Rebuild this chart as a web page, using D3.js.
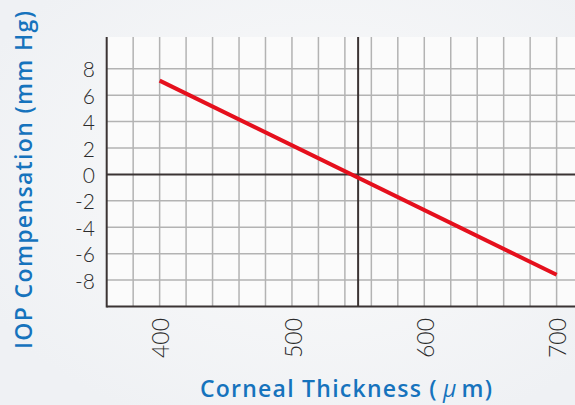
<!DOCTYPE html>
<html>
<head>
<meta charset="utf-8">
<script src="https://cdn.jsdelivr.net/npm/d3@7"></script>
<style>
  body { margin: 0; background: #f3f4f6; }
  svg { display: block; }
</style>
</head>
<body>
<div id="chart"></div>
<script>
// data
const thickness = [400, 700];
const compensation = [7.1, -7.6];
const xTicks = [400, 500, 600, 700];
const yTicks = [8, 6, 4, 2, 0, -2, -4, -6, -8];
const xGrid = d3.range(380, 721, 20);
const yGrid = [-8, -6, -4, -2, 2, 4, 6, 8];

const width = 575, height = 405;

const svg = d3.select("#chart")
    .append("svg")
    .attr("width", width)
    .attr("height", height);

const defs = svg.append("defs");
const bg = defs.append("radialGradient").attr("id", "bg")
    .attr("cx", "55%").attr("cy", "45%").attr("r", "65%");
bg.append("stop").attr("offset", "0%").attr("stop-color", "#fbfbfb");
bg.append("stop").attr("offset", "100%").attr("stop-color", "#eff1f4");

svg.append("rect")
    .attr("width", width)
    .attr("height", height)
    .attr("fill", "url(#bg)");

// scales
const x = d3.scaleLinear().domain([360, 713.9]).range([106.7, 575]);
const y = d3.scaleLinear().domain([-10, 10.4]).range([306.5, 37]);

// plot background
svg.append("rect")
    .attr("x", x(360))
    .attr("y", y(10.4))
    .attr("width", x(713.9) - x(360))
    .attr("height", y(-10) - y(10.4))
    .attr("fill", "#fbfbfb");

// grid
svg.append("g").selectAll("line")
    .data(xGrid)
    .join("line")
    .attr("x1", d => x(d)).attr("x2", d => x(d))
    .attr("y1", y(10.4)).attr("y2", y(-10))
    .attr("stroke", "#b3b3b3")
    .attr("stroke-width", 1.5);

svg.append("g").selectAll("line")
    .data(yGrid)
    .join("line")
    .attr("x1", x(360)).attr("x2", width)
    .attr("y1", d => y(d)).attr("y2", d => y(d))
    .attr("stroke", "#b3b3b3")
    .attr("stroke-width", 1.5);

// dark reference lines
const dark = "#3b3434";
svg.append("line")
    .attr("x1", x(550)).attr("x2", x(550))
    .attr("y1", y(10.4)).attr("y2", y(-10))
    .attr("stroke", dark).attr("stroke-width", 2);
svg.append("line")
    .attr("x1", x(360)).attr("x2", width)
    .attr("y1", y(0)).attr("y2", y(0))
    .attr("stroke", dark).attr("stroke-width", 2);
svg.append("line")
    .attr("x1", x(360)).attr("x2", width)
    .attr("y1", y(-10)).attr("y2", y(-10))
    .attr("stroke", dark).attr("stroke-width", 2);
svg.append("line")
    .attr("x1", x(360)).attr("x2", x(360))
    .attr("y1", y(10.4)).attr("y2", y(-10) + 1)
    .attr("stroke", dark).attr("stroke-width", 2);

// y tick labels
svg.append("g").selectAll("text")
    .data(yTicks)
    .join("text")
    .attr("x", 95)
    .attr("y", d => y(d) + 1)
    .attr("dy", "0.36em")
    .attr("text-anchor", "end")
    .attr("font-family", "Lato, 'Open Sans', sans-serif")
    .attr("font-weight", 300)
    .attr("font-size", 21)
    .attr("fill", "#2b2b2b")
    .text(d => d);

// x tick labels (rotated)
svg.append("g").selectAll("text")
    .data(xTicks)
    .join("text")
    .attr("transform", d => `translate(${x(d) + 1.5},318) rotate(-90)`)
    .attr("dy", "0.36em")
    .attr("text-anchor", "end")
    .attr("font-family", "Lato, 'Open Sans', sans-serif")
    .attr("font-weight", 300)
    .attr("font-size", 23)
    .attr("fill", "#2b2b2b")
    .text(d => d);

// the line
const line = d3.line()
    .x((d, i) => x(thickness[i]))
    .y(d => y(d));

svg.append("path")
    .datum(compensation)
    .attr("d", line)
    .attr("fill", "none")
    .attr("stroke", "#e5101d")
    .attr("stroke-width", 4);

// axis titles
const blue = "#1673bd";
svg.append("text")
    .attr("transform", "translate(32,180) rotate(-90)")
    .attr("text-anchor", "middle")
    .attr("font-family", "'Open Sans', sans-serif")
    .attr("font-weight", 600)
    .attr("font-size", 23)
    .attr("textLength", 338)
    .attr("lengthAdjust", "spacing")
    .attr("fill", blue)
    .text("IOP Compensation (mm Hg)");

const xt = svg.append("text")
    .attr("x", 346)
    .attr("y", 397)
    .attr("text-anchor", "middle")
    .attr("font-family", "'Open Sans', sans-serif")
    .attr("font-weight", 600)
    .attr("font-size", 23)
    .attr("textLength", 292)
    .attr("lengthAdjust", "spacing")
    .attr("fill", blue);
xt.append("tspan").text("Corneal Thickness (");
xt.append("tspan").attr("dx", 5).attr("font-style", "italic").attr("font-weight", 400).text("μ");
xt.append("tspan").attr("dx", 4).text("m)");
</script>
</body>
</html>
